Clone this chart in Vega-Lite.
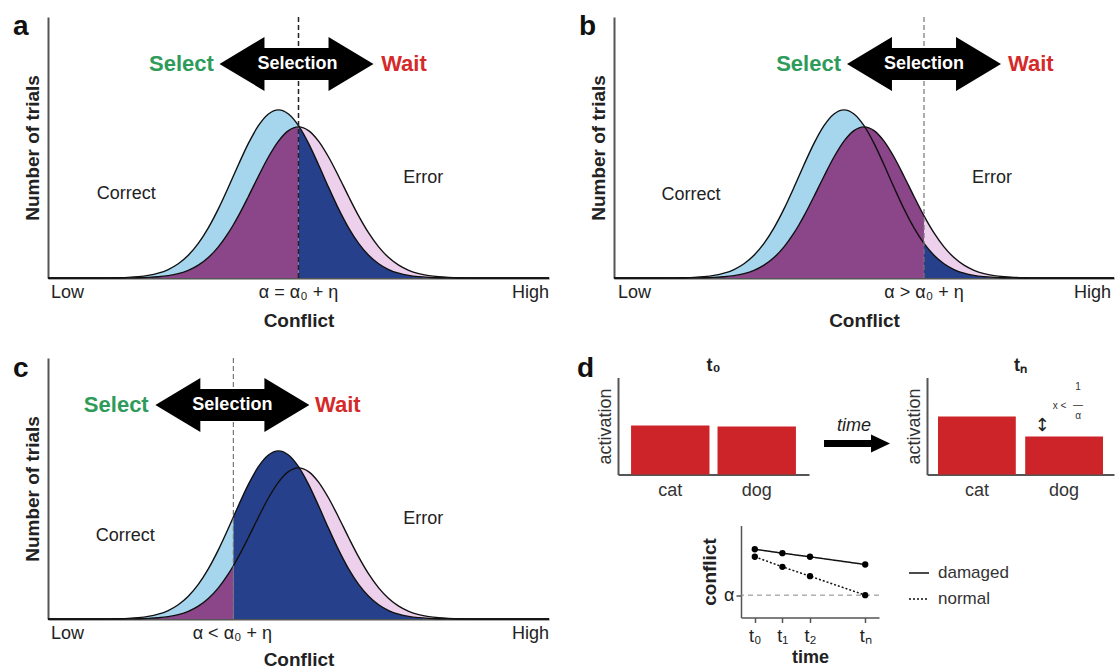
{
 "$schema": "https://vega.github.io/schema/vega-lite/v6.json",
 "background": "white",
 "padding": {"left": 12, "top": 13, "right": 0, "bottom": 0},
 "config": {
  "view": {"stroke": null},
  "font": "Liberation Sans",
  "axis": {"domainColor": "#555", "domainWidth": 2, "ticks": false, "labels": false, "grid": false, "titleFontWeight": "bold", "titleColor": "#222", "titleFontSize": 19},
  "title": {"fontSize": 18, "fontWeight": "bold", "color": "#222", "offset": 3},
  "text": {"color": "#222"}
 },
 "datasets": {
  "curves": [{"x":0,"b":0,"p":0},{"x":4,"b":0,"p":0},{"x":8,"b":0.0001,"p":0},{"x":10,"b":0.0002,"p":0},{"x":12,"b":0.0005,"p":0.0001},{"x":14,"b":0.0012,"p":0.0002},{"x":16,"b":0.0025,"p":0.0005},{"x":18,"b":0.0051,"p":0.001},{"x":20,"b":0.0099,"p":0.0023},{"x":22,"b":0.0184,"p":0.0046},{"x":24,"b":0.0325,"p":0.0089},{"x":26,"b":0.0545,"p":0.0166},{"x":28,"b":0.0871,"p":0.0292},{"x":30,"b":0.1326,"p":0.049},{"x":32,"b":0.192,"p":0.0783},{"x":34,"b":0.2647,"p":0.1192},{"x":36,"b":0.3474,"p":0.1727},{"x":37,"b":0.3906,"p":0.204},{"x":38,"b":0.4338,"p":0.238},{"x":40,"b":0.5157,"p":0.3123},{"x":42,"b":0.5835,"p":0.39},{"x":44,"b":0.6283,"p":0.4636},{"x":46,"b":0.644,"p":0.5246},{"x":48,"b":0.6283,"p":0.5649},{"x":50,"b":0.5835,"p":0.579},{"x":52,"b":0.5157,"p":0.5649},{"x":54,"b":0.4338,"p":0.5246},{"x":56,"b":0.3474,"p":0.4636},{"x":58,"b":0.2647,"p":0.39},{"x":60,"b":0.192,"p":0.3123},{"x":62,"b":0.1326,"p":0.238},{"x":64,"b":0.0871,"p":0.1727},{"x":66,"b":0.0545,"p":0.1192},{"x":68,"b":0.0325,"p":0.0783},{"x":70,"b":0.0184,"p":0.049},{"x":72,"b":0.0099,"p":0.0292},{"x":74,"b":0.0051,"p":0.0166},{"x":76,"b":0.0025,"p":0.0089},{"x":78,"b":0.0012,"p":0.0046},{"x":80,"b":0.0005,"p":0.0023},{"x":82,"b":0.0002,"p":0.001},{"x":84,"b":0.0001,"p":0.0005},{"x":86,"b":0,"p":0.0002},{"x":88,"b":0,"p":0.0001},{"x":90,"b":0,"p":0},{"x":96,"b":0,"p":0},{"x":100,"b":0,"p":0}]
 },
 "hconcat": [
  {
   "vconcat": [
    {
     "width": 501, "height": 261,
     "layer": [
      {"data":{"name":"curves"},"transform":[{"filter":"datum.x <= 50"}],"mark":{"type":"area","interpolate":"monotone","color":"#a6d6ee"},
       "encoding":{"x":{"field":"x","type":"quantitative","scale":{"domain":[0,100],"nice":false,"zero":false},"axis":{"title":"Conflict","titlePadding":33}},
                   "y":{"field":"b","type":"quantitative","scale":{"domain":[0,1],"nice":false},"axis":{"title":"Number of trials","titlePadding":6}}}},
      {"data":{"name":"curves"},"transform":[{"filter":"datum.x <= 50"}],"mark":{"type":"area","interpolate":"monotone","color":"#8b4589"},"encoding":{"x":{"field":"x","type":"quantitative"},"y":{"field":"p","type":"quantitative"}}},
      {"data":{"name":"curves"},"transform":[{"filter":"datum.x >= 50"}],"mark":{"type":"area","interpolate":"monotone","color":"#ecd0ec"},"encoding":{"x":{"field":"x","type":"quantitative"},"y":{"field":"p","type":"quantitative"}}},
      {"data":{"name":"curves"},"transform":[{"filter":"datum.x >= 50"}],"mark":{"type":"area","interpolate":"monotone","color":"#26408b"},"encoding":{"x":{"field":"x","type":"quantitative"},"y":{"field":"b","type":"quantitative"}}},
      {"data":{"name":"curves"},"mark":{"type":"line","interpolate":"monotone","color":"#111","strokeWidth":1.4},"encoding":{"x":{"field":"x","type":"quantitative"},"y":{"field":"b","type":"quantitative"}}},
      {"data":{"name":"curves"},"mark":{"type":"line","interpolate":"monotone","color":"#111","strokeWidth":1.4},"encoding":{"x":{"field":"x","type":"quantitative"},"y":{"field":"p","type":"quantitative"}}},
      {"data":{"values":[{"t":50}]},"mark":{"type":"rule","strokeDash":[5,3],"color":"#222","strokeWidth":1.5},"encoding":{"x":{"field":"t","type":"quantitative"}}},
      {"data":{"values":[{"x":49.6,"y":0.82}]},"mark":{"type":"point","shape":"M-1,0L-0.416,-0.35L-0.416,-0.208L0.416,-0.208L0.416,-0.35L1,0L0.416,0.35L0.416,0.208L-0.416,0.208L-0.416,0.35Z","size":23716,"filled":true,"color":"#000","opacity":1,"strokeWidth":0},"encoding":{"x":{"field":"x","type":"quantitative"},"y":{"field":"y","type":"quantitative"}}},
      {"data":{"values":[{"x":33.1,"y":0.82,"s":"Select"}]},"mark":{"type":"text","align":"right","baseline":"middle","fontSize":22,"fontWeight":"bold","color":"#2e9b5a"},"encoding":{"x":{"field":"x","type":"quantitative"},"y":{"field":"y","type":"quantitative"},"text":{"field":"s"}}},
      {"data":{"values":[{"x":66.5,"y":0.82,"s":"Wait"}]},"mark":{"type":"text","align":"left","baseline":"middle","fontSize":22,"fontWeight":"bold","color":"#d42a2a"},"encoding":{"x":{"field":"x","type":"quantitative"},"y":{"field":"y","type":"quantitative"},"text":{"field":"s"}}},
      {"data":{"values":[{"x":49.8,"y":0.82,"s":"Selection"}]},"mark":{"type":"text","align":"center","baseline":"middle","fontSize":18,"fontWeight":"bold","color":"#ffffff"},"encoding":{"x":{"field":"x","type":"quantitative"},"y":{"field":"y","type":"quantitative"},"text":{"field":"s"}}},
      {"data":{"values":[{"x":15.6,"y":0.322,"s":"Correct"},{"x":74.9,"y":0.383,"s":"Error"},{"x":50,"y":-0.0575,"s":"α = α₀ + η"}]},"mark":{"type":"text","align":"center","baseline":"middle","fontSize":18,"color":"#222"},"encoding":{"x":{"field":"x","type":"quantitative"},"y":{"field":"y","type":"quantitative"},"text":{"field":"s"}}},
      {"data":{"values":[{"x":0.6,"y":-0.0575,"s":"Low"}]},"mark":{"type":"text","align":"left","baseline":"middle","fontSize":18,"color":"#222"},"encoding":{"x":{"field":"x","type":"quantitative"},"y":{"field":"y","type":"quantitative"},"text":{"field":"s"}}},
      {"data":{"values":[{"x":100,"y":-0.0575,"s":"High"}]},"mark":{"type":"text","align":"right","baseline":"middle","fontSize":18,"color":"#222"},"encoding":{"x":{"field":"x","type":"quantitative"},"y":{"field":"y","type":"quantitative"},"text":{"field":"s"}}},
      {"data":{"values":[{"x":-7,"y":0.931,"s":"a"}]},"mark":{"type":"text","align":"left","baseline":"alphabetic","fontSize":28,"fontWeight":"bold","color":"#111"},"encoding":{"x":{"field":"x","type":"quantitative"},"y":{"field":"y","type":"quantitative"},"text":{"field":"s"}}}
     ]
    },
    {
     "width": 501, "height": 261,
     "layer": [
      {"data":{"name":"curves"},"transform":[{"filter":"datum.x <= 37"}],"mark":{"type":"area","interpolate":"monotone","color":"#a6d6ee"},
       "encoding":{"x":{"field":"x","type":"quantitative","scale":{"domain":[0,100],"nice":false,"zero":false},"axis":{"title":"Conflict","titlePadding":31}},
                   "y":{"field":"b","type":"quantitative","scale":{"domain":[0,1],"nice":false},"axis":{"title":"Number of trials","titlePadding":6}}}},
      {"data":{"name":"curves"},"transform":[{"filter":"datum.x <= 37"}],"mark":{"type":"area","interpolate":"monotone","color":"#8b4589"},"encoding":{"x":{"field":"x","type":"quantitative"},"y":{"field":"p","type":"quantitative"}}},
      {"data":{"name":"curves"},"transform":[{"filter":"datum.x >= 37"}],"mark":{"type":"area","interpolate":"monotone","color":"#ecd0ec"},"encoding":{"x":{"field":"x","type":"quantitative"},"y":{"field":"p","type":"quantitative"}}},
      {"data":{"name":"curves"},"transform":[{"filter":"datum.x >= 37"}],"mark":{"type":"area","interpolate":"monotone","color":"#26408b"},"encoding":{"x":{"field":"x","type":"quantitative"},"y":{"field":"b","type":"quantitative"}}},
      {"data":{"name":"curves"},"mark":{"type":"line","interpolate":"monotone","color":"#111","strokeWidth":1.4},"encoding":{"x":{"field":"x","type":"quantitative"},"y":{"field":"b","type":"quantitative"}}},
      {"data":{"name":"curves"},"mark":{"type":"line","interpolate":"monotone","color":"#111","strokeWidth":1.4},"encoding":{"x":{"field":"x","type":"quantitative"},"y":{"field":"p","type":"quantitative"}}},
      {"data":{"values":[{"t":37}]},"mark":{"type":"rule","strokeDash":[5,3],"color":"#777","strokeWidth":1.2},"encoding":{"x":{"field":"t","type":"quantitative"}}},
      {"data":{"values":[{"x":36.8,"y":0.82}]},"mark":{"type":"point","shape":"M-1,0L-0.416,-0.35L-0.416,-0.208L0.416,-0.208L0.416,-0.35L1,0L0.416,0.35L0.416,0.208L-0.416,0.208L-0.416,0.35Z","size":23716,"filled":true,"color":"#000","opacity":1,"strokeWidth":0},"encoding":{"x":{"field":"x","type":"quantitative"},"y":{"field":"y","type":"quantitative"}}},
      {"data":{"values":[{"x":20.1,"y":0.82,"s":"Select"}]},"mark":{"type":"text","align":"right","baseline":"middle","fontSize":22,"fontWeight":"bold","color":"#2e9b5a"},"encoding":{"x":{"field":"x","type":"quantitative"},"y":{"field":"y","type":"quantitative"},"text":{"field":"s"}}},
      {"data":{"values":[{"x":53.3,"y":0.82,"s":"Wait"}]},"mark":{"type":"text","align":"left","baseline":"middle","fontSize":22,"fontWeight":"bold","color":"#d42a2a"},"encoding":{"x":{"field":"x","type":"quantitative"},"y":{"field":"y","type":"quantitative"},"text":{"field":"s"}}},
      {"data":{"values":[{"x":36.8,"y":0.82,"s":"Selection"}]},"mark":{"type":"text","align":"center","baseline":"middle","fontSize":18,"fontWeight":"bold","color":"#ffffff"},"encoding":{"x":{"field":"x","type":"quantitative"},"y":{"field":"y","type":"quantitative"},"text":{"field":"s"}}},
      {"data":{"values":[{"x":15.4,"y":0.318,"s":"Correct"},{"x":74.9,"y":0.383,"s":"Error"},{"x":36.8,"y":-0.0575,"s":"α < α₀ + η"}]},"mark":{"type":"text","align":"center","baseline":"middle","fontSize":18,"color":"#222"},"encoding":{"x":{"field":"x","type":"quantitative"},"y":{"field":"y","type":"quantitative"},"text":{"field":"s"}}},
      {"data":{"values":[{"x":0.6,"y":-0.0575,"s":"Low"}]},"mark":{"type":"text","align":"left","baseline":"middle","fontSize":18,"color":"#222"},"encoding":{"x":{"field":"x","type":"quantitative"},"y":{"field":"y","type":"quantitative"},"text":{"field":"s"}}},
      {"data":{"values":[{"x":100,"y":-0.0575,"s":"High"}]},"mark":{"type":"text","align":"right","baseline":"middle","fontSize":18,"color":"#222"},"encoding":{"x":{"field":"x","type":"quantitative"},"y":{"field":"y","type":"quantitative"},"text":{"field":"s"}}},
      {"data":{"values":[{"x":-7,"y":0.927,"s":"c"}]},"mark":{"type":"text","align":"left","baseline":"alphabetic","fontSize":28,"fontWeight":"bold","color":"#111"},"encoding":{"x":{"field":"x","type":"quantitative"},"y":{"field":"y","type":"quantitative"},"text":{"field":"s"}}}
     ]
    }
   ],
   "spacing": 80,
   "bounds": "flush"
  },
  {
   "vconcat": [
    {
     "width": 500, "height": 261,
     "layer": [
      {"data":{"name":"curves"},"transform":[{"filter":"datum.x <= 62"}],"mark":{"type":"area","interpolate":"monotone","color":"#a6d6ee"},
       "encoding":{"x":{"field":"x","type":"quantitative","scale":{"domain":[0,100],"nice":false,"zero":false},"axis":{"title":"Conflict","titlePadding":33}},
                   "y":{"field":"b","type":"quantitative","scale":{"domain":[0,1],"nice":false},"axis":{"title":"Number of trials","titlePadding":6}}}},
      {"data":{"name":"curves"},"transform":[{"filter":"datum.x <= 62"}],"mark":{"type":"area","interpolate":"monotone","color":"#8b4589"},"encoding":{"x":{"field":"x","type":"quantitative"},"y":{"field":"p","type":"quantitative"}}},
      {"data":{"name":"curves"},"transform":[{"filter":"datum.x >= 62"}],"mark":{"type":"area","interpolate":"monotone","color":"#ecd0ec"},"encoding":{"x":{"field":"x","type":"quantitative"},"y":{"field":"p","type":"quantitative"}}},
      {"data":{"name":"curves"},"transform":[{"filter":"datum.x >= 62"}],"mark":{"type":"area","interpolate":"monotone","color":"#26408b"},"encoding":{"x":{"field":"x","type":"quantitative"},"y":{"field":"b","type":"quantitative"}}},
      {"data":{"name":"curves"},"mark":{"type":"line","interpolate":"monotone","color":"#111","strokeWidth":1.4},"encoding":{"x":{"field":"x","type":"quantitative"},"y":{"field":"b","type":"quantitative"}}},
      {"data":{"name":"curves"},"mark":{"type":"line","interpolate":"monotone","color":"#111","strokeWidth":1.4},"encoding":{"x":{"field":"x","type":"quantitative"},"y":{"field":"p","type":"quantitative"}}},
      {"data":{"values":[{"t":62}]},"mark":{"type":"rule","strokeDash":[5,3],"color":"#777","strokeWidth":1.2},"encoding":{"x":{"field":"t","type":"quantitative"}}},
      {"data":{"values":[{"x":62,"y":0.82}]},"mark":{"type":"point","shape":"M-1,0L-0.416,-0.35L-0.416,-0.208L0.416,-0.208L0.416,-0.35L1,0L0.416,0.35L0.416,0.208L-0.416,0.208L-0.416,0.35Z","size":23716,"filled":true,"color":"#000","opacity":1,"strokeWidth":0},"encoding":{"x":{"field":"x","type":"quantitative"},"y":{"field":"y","type":"quantitative"}}},
      {"data":{"values":[{"x":45.4,"y":0.82,"s":"Select"}]},"mark":{"type":"text","align":"right","baseline":"middle","fontSize":22,"fontWeight":"bold","color":"#2e9b5a"},"encoding":{"x":{"field":"x","type":"quantitative"},"y":{"field":"y","type":"quantitative"},"text":{"field":"s"}}},
      {"data":{"values":[{"x":78.8,"y":0.82,"s":"Wait"}]},"mark":{"type":"text","align":"left","baseline":"middle","fontSize":22,"fontWeight":"bold","color":"#d42a2a"},"encoding":{"x":{"field":"x","type":"quantitative"},"y":{"field":"y","type":"quantitative"},"text":{"field":"s"}}},
      {"data":{"values":[{"x":62,"y":0.82,"s":"Selection"}]},"mark":{"type":"text","align":"center","baseline":"middle","fontSize":18,"fontWeight":"bold","color":"#ffffff"},"encoding":{"x":{"field":"x","type":"quantitative"},"y":{"field":"y","type":"quantitative"},"text":{"field":"s"}}},
      {"data":{"values":[{"x":15.4,"y":0.318,"s":"Correct"},{"x":75.6,"y":0.383,"s":"Error"},{"x":62,"y":-0.0575,"s":"α > α₀ + η"}]},"mark":{"type":"text","align":"center","baseline":"middle","fontSize":18,"color":"#222"},"encoding":{"x":{"field":"x","type":"quantitative"},"y":{"field":"y","type":"quantitative"},"text":{"field":"s"}}},
      {"data":{"values":[{"x":0.8,"y":-0.0575,"s":"Low"}]},"mark":{"type":"text","align":"left","baseline":"middle","fontSize":18,"color":"#222"},"encoding":{"x":{"field":"x","type":"quantitative"},"y":{"field":"y","type":"quantitative"},"text":{"field":"s"}}},
      {"data":{"values":[{"x":99.4,"y":-0.0575,"s":"High"}]},"mark":{"type":"text","align":"right","baseline":"middle","fontSize":18,"color":"#222"},"encoding":{"x":{"field":"x","type":"quantitative"},"y":{"field":"y","type":"quantitative"},"text":{"field":"s"}}},
      {"data":{"values":[{"x":-7,"y":0.931,"s":"b"}]},"mark":{"type":"text","align":"left","baseline":"alphabetic","fontSize":28,"fontWeight":"bold","color":"#111"},"encoding":{"x":{"field":"x","type":"quantitative"},"y":{"field":"y","type":"quantitative"},"text":{"field":"s"}}}
     ]
    },
    {
     "vconcat": [
      {
       "hconcat": [
        {"width": 1, "height": 97, "data": {"values": []}, "mark": "point"},
        {
         "width": 191, "height": 97,
         "title": {"text": "t₀"},
         "data": {"values": [{"k":"cat","v":0.505},{"k":"dog","v":0.495}]},
         "mark": {"type": "bar", "color": "#cc2428"},
         "encoding": {
          "x": {"field":"k","type":"nominal","scale":{"domain":["cat","dog"],"paddingInner":0.093,"paddingOuter":0.151},"axis":{"title":null,"labels":true,"labelAngle":0,"labelFontSize":18,"labelColor":"#333","labelPadding":7}},
          "y": {"field":"v","type":"quantitative","scale":{"domain":[0,1],"nice":false},"axis":{"title":"activation","titleFontWeight":"normal","titleFontSize":18,"titleColor":"#333","titlePadding":4}}
         }
        },
        {
         "width": 112, "height": 97,
         "layer": [
          {"data":{"values":[{"x":0.402,"y":0.32}]},"mark":{"type":"point","shape":"M-1,-0.106L0.424,-0.106L0.424,-0.273L1,0L0.424,0.273L0.424,0.106L-1,0.106Z","size":4356,"filled":true,"color":"#000","opacity":1,"strokeWidth":0},
           "encoding":{"x":{"field":"x","type":"quantitative","scale":{"domain":[0,1],"nice":false,"zero":false},"axis":null},"y":{"field":"y","type":"quantitative","scale":{"domain":[0,1],"nice":false},"axis":null}}},
          {"data":{"values":[{"x":0.375,"y":0.495,"s":"time"}]},"mark":{"type":"text","align":"center","baseline":"middle","fontSize":18,"fontStyle":"italic","color":"#222"},
           "encoding":{"x":{"field":"x","type":"quantitative"},"y":{"field":"y","type":"quantitative"},"text":{"field":"s"}}},
          {"data":{"values":[{"x":-2.098,"y":1.01,"s":"d"}]},"mark":{"type":"text","align":"left","baseline":"alphabetic","fontSize":28,"fontWeight":"bold","color":"#111"},
           "encoding":{"x":{"field":"x","type":"quantitative"},"y":{"field":"y","type":"quantitative"},"text":{"field":"s"}}}
         ]
        },
        {
         "width": 187, "height": 97,
         "title": {"text": "tₙ"},
         "layer": [
          {"data": {"values": [{"k":"cat","v":0.598},{"k":"dog","v":0.392}]},
           "mark": {"type": "bar", "color": "#cc2428"},
           "encoding": {
            "x": {"field":"k","type":"nominal","scale":{"domain":["cat","dog"],"paddingInner":0.108,"paddingOuter":0.126},"axis":{"title":null,"labels":true,"labelAngle":0,"labelFontSize":18,"labelColor":"#333","labelPadding":7}},
            "y": {"field":"v","type":"quantitative","scale":{"domain":[0,1],"nice":false},"axis":{"title":"activation","titleFontWeight":"normal","titleFontSize":18,"titleColor":"#333","titlePadding":4}}
           }},
          {"data": {"values": [{"k":"dog","v":0.5,"s":"↕"}]},"mark":{"type":"text","align":"center","baseline":"middle","fontSize":18,"font":"DejaVu Sans","color":"#222"},
           "encoding":{"x":{"field":"k","type":"nominal","bandPosition":0.22},"y":{"field":"v","type":"quantitative"},"text":{"field":"s"}}},
          {"data": {"values": [{"k":"dog","v":0.711,"s":"x <"}]},"mark":{"type":"text","align":"center","baseline":"middle","fontSize":10,"color":"#333"},
           "encoding":{"x":{"field":"k","type":"nominal","bandPosition":0.44},"y":{"field":"v","type":"quantitative"},"text":{"field":"s"}}},
          {"data": {"values": [{"k":"dog","v":0.907,"s":"1"},{"k":"dog","v":0.715,"s":"—"},{"k":"dog","v":0.608,"s":"α"}]},"mark":{"type":"text","align":"center","baseline":"middle","fontSize":10,"color":"#333"},
           "encoding":{"x":{"field":"k","type":"nominal","bandPosition":0.68},"y":{"field":"v","type":"quantitative"},"text":{"field":"s"}}}
         ]
        }
       ],
       "spacing": 3,
       "bounds": "flush",
       "align": "each"
      },
      {
       "hconcat": [
        {"width": 127, "height": 92, "data": {"values": []}, "mark": "point"},
        {
         "width": 138, "height": 92,
         "data": {"values": [{"t":0,"c":"damaged","v":0.742},{"t":1,"c":"damaged","v":0.699},{"t":2,"c":"damaged","v":0.66},{"t":4,"c":"damaged","v":0.576},{"t":0,"c":"normal","v":0.66},{"t":1,"c":"normal","v":0.551},{"t":2,"c":"normal","v":0.449},{"t":4,"c":"normal","v":0.243}]},
         "layer": [
          {"data":{"values":[{"a":0.243}]},"mark":{"type":"rule","strokeDash":[5,4],"color":"#888","strokeWidth":1},"encoding":{"y":{"field":"a","type":"quantitative"}}},
          {"mark":{"type":"line","color":"#111","strokeWidth":1.5},
           "encoding":{
            "x":{"field":"t","type":"quantitative","scale":{"domain":[-0.5,4.5],"nice":false,"zero":false},"axis":{"values":[0,1,2,4],"labelExpr":"datum.value == 0 ? 't₀' : datum.value == 1 ? 't₁' : datum.value == 2 ? 't₂' : 'tₙ'","labels":true,"ticks":true,"tickSize":5,"tickColor":"#555","tickWidth":1.5,"labelFontSize":18,"labelColor":"#222","labelPadding":5,"title":"time","titleFontSize":18,"titlePadding":3,"domainWidth":1.5}},
            "y":{"field":"v","type":"quantitative","scale":{"domain":[0,1],"nice":false},"axis":{"values":[0.243],"labelExpr":"'α'","labels":true,"ticks":true,"tickSize":5,"tickColor":"#555","tickWidth":1.5,"labelFontSize":18,"labelColor":"#222","labelPadding":2,"title":"conflict","titleFontSize":19,"titlePadding":4,"domainWidth":1.5}},
            "strokeDash":{"field":"c","type":"nominal","scale":{"domain":["damaged","normal"],"range":[[1,0],[2,2]]},
              "legend":{"orient":"none","legendX":860,"legendY":545,"title":null,"symbolType":"stroke","symbolSize":400,"symbolStrokeWidth":1.5,"symbolStrokeColor":"#111","labelFontSize":17,"labelColor":"#333","labelOffset":8,"rowPadding":7}}
           }},
          {"mark":{"type":"point","filled":true,"color":"#000","opacity":1,"size":40},"encoding":{"x":{"field":"t","type":"quantitative"},"y":{"field":"v","type":"quantitative"}}}
         ]
        }
       ],
       "spacing": 0,
       "bounds": "flush",
       "align": "each"
      }
     ],
     "spacing": 26,
     "bounds": "full"
    }
   ],
   "spacing": 24.5,
   "bounds": "full"
  }
 ],
 "spacing": 25,
 "bounds": "full",
 "align": "each"
}
